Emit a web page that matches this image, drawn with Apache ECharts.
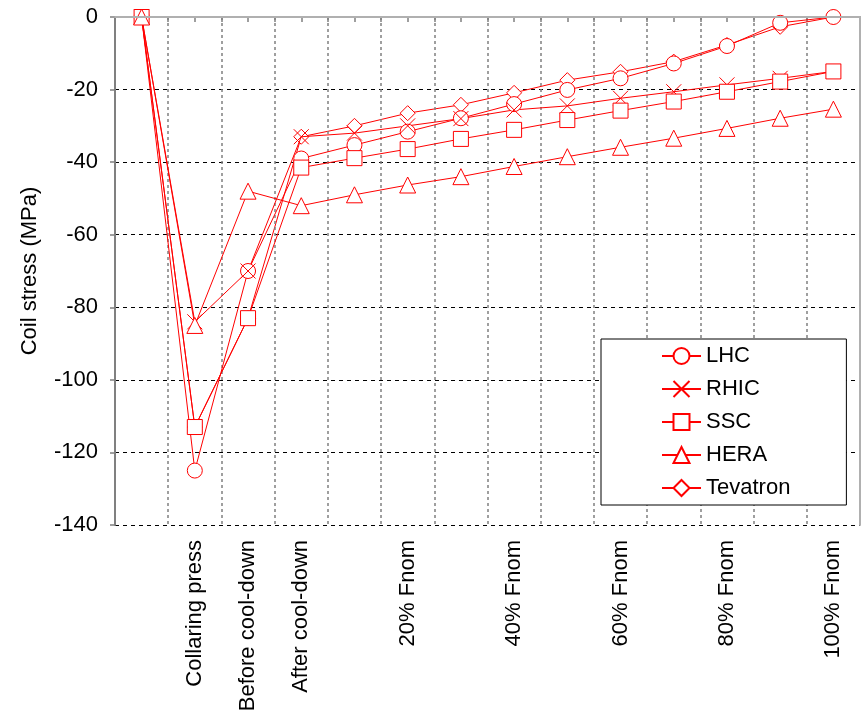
<!DOCTYPE html>
<html>
<head>
<meta charset="utf-8">
<script src="https://cdn.jsdelivr.net/npm/echarts@6/dist/echarts.min.js"></script>
<style>
  html, body { margin: 0; padding: 0; background: #fff; }
  #main { width: 861px; height: 712px; }
</style>
</head>
<body>
<div id="main"></div>
<script>
// categories (x axis), only some of them labelled
var categories = ['', 'Collaring press', 'Before cool-down', 'After cool-down', ' ', '20% Fnom', '  ',
                  '40% Fnom', '   ', '60% Fnom', '    ', '80% Fnom', '     ', '100% Fnom'];
// coil stress (MPa) per machine
var lhc      = [0, -125, -70, -39, -35.3, -31.6, -27.9, -24.0, -20.1, -16.9, -12.8, -8.0, -1.6, 0];
var rhic     = [0, -84, -70, -33, -32.0, -30.0, -28.0, -25.6, -24.5, -22.4, -20.6, -18.7, -16.9, -15];
var ssc      = [0, -113, -83, -41.5, -38.9, -36.4, -33.6, -31.1, -28.4, -25.8, -23.3, -20.6, -17.8, -15];
var hera     = [0, -85, -48, -52, -49.0, -46.3, -44.0, -41.2, -38.5, -35.9, -33.4, -30.7, -27.9, -25.4];
var tevatron = [0, -113, -83, -33, -30.0, -26.5, -24.2, -20.9, -17.4, -15.1, -12.3, -7.7, -2.7, 0];
var yTicks = [0, -20, -40, -60, -80, -100, -120, -140];

var font = '"Liberation Sans", Arial, sans-serif';
var red = '#ff0000';

// half-category tick slots, only used to draw the small axis ticks
var tickSlots = [];
for (var i = 0; i < categories.length * 2; i++) tickSlots.push('t' + i);

function makeSeries(name, data, symbol, size, z) {
    return {
        name: name,
        type: 'line',
        z: z,
        data: data,
        symbol: symbol,
        symbolSize: size,
        showAllSymbol: true,
        lineStyle: { color: red, width: 1 },
        itemStyle: { color: '#fff', borderColor: red, borderWidth: 1 },
        emphasis: { disabled: true }
    };
}

var myChart = echarts.init(document.getElementById('main'));
myChart.setOption({
    animation: false,
    backgroundColor: '#fff',
    textStyle: { fontFamily: font },
    grid: { left: 115, right: 1, top: 17, bottom: 187, outerBoundsMode: 'none' },
    legend: {
        orient: 'vertical',
        left: 601,
        top: 339,
        padding: [6, 56, 6, 60],
        itemWidth: 39,
        itemHeight: 20,
        itemGap: 11,
        backgroundColor: '#fff',
        borderColor: '#000',
        borderWidth: 1,
        textStyle: { fontSize: 22, color: '#000', fontFamily: font },
        data: ['LHC', 'RHIC', 'SSC', 'HERA', 'Tevatron']
    },
    xAxis: [
        {
            type: 'category',
            data: categories,
            position: 'bottom',
            boundaryGap: true,
            z: 3,
            axisLine: { lineStyle: { color: '#808080', width: 2 } },
            axisTick: { show: false },
            axisLabel: {
                interval: 0,
                rotate: 90,
                margin: 15,
                fontSize: 22,
                color: '#000',
                fontFamily: font
            },
            splitLine: { show: true, lineStyle: { color: '#808080', type: [3, 3], width: 1.5 } }
        },
        {
            type: 'category',
            data: tickSlots,
            position: 'bottom',
            boundaryGap: true,
            axisLine: { show: false },
            axisTick: { show: true, interval: 0, length: 5, lineStyle: { color: '#808080', width: 1.5 } },
            axisLabel: { show: false },
            splitLine: { show: false }
        },
        {
            type: 'category',
            data: categories,
            position: 'top',
            z: 5,
            axisLine: { lineStyle: { color: '#b0b0b0', width: 2 } },
            axisTick: { show: false },
            axisLabel: { show: false },
            splitLine: { show: false }
        }
    ],
    yAxis: [
        {
            type: 'value',
            name: 'Coil stress (MPa)',
            nameLocation: 'middle',
            nameGap: 74,
            nameTextStyle: { fontSize: 22, color: '#000', fontFamily: font },
            min: yTicks[yTicks.length - 1],
            max: yTicks[0],
            interval: 20,
            axisLine: { show: true, lineStyle: { color: '#808080', width: 2 } },
            axisTick: { show: true, length: 5, lineStyle: { color: '#808080', width: 1.5 } },
            axisLabel: { margin: 17, fontSize: 22, color: '#000', fontFamily: font },
            splitLine: { show: true, lineStyle: { color: '#000', type: [4, 4], width: 1 } }
        },
        {
            type: 'value',
            position: 'right',
            min: yTicks[yTicks.length - 1],
            max: yTicks[0],
            interval: 20,
            z: 5,
            axisLine: { show: true, lineStyle: { color: '#b0b0b0', width: 2 } },
            axisTick: { show: false },
            axisLabel: { show: false },
            splitLine: { show: false }
        }
    ],
    series: [
        makeSeries('LHC', lhc, 'circle', 15, 3),
        makeSeries('RHIC', rhic, 'path://M0,0L10,10M10,0L0,10', 15, 3),
        makeSeries('SSC', ssc, 'rect', 15, 3),
        makeSeries('HERA', hera, 'triangle', 16, 3),
        makeSeries('Tevatron', tevatron, 'diamond', 15, 2)
    ]
});
</script>
</body>
</html>
